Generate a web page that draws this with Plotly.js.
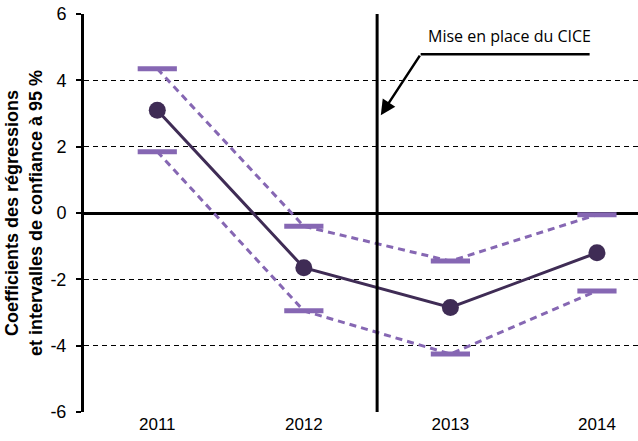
<!DOCTYPE html>
<html><head><meta charset="utf-8">
<script src="https://cdn.plot.ly/plotly-3.0.1.min.js"></script>
<style>body{margin:0;padding:0;background:#fff}#chart{width:638px;height:441px}</style>
</head><body><div id="chart"></div>
<script>
const years = [2011, 2012, 2013, 2014];
const yearLabels = ['2011', '2012', '2013', '2014'];
const coef = [3.1, -1.65, -2.85, -1.2];
const upper = [4.35, -0.4, -1.45, -0.05];
const lower = [1.85, -2.95, -4.25, -2.35];
const yTicks = [-6, -4, -2, 0, 2, 4, 6];
const yTickLabels = ['-6', '-4', '-2', '0', '2', '4', '6'];

const purple = '#8667b3';
const dark = '#3f2c55';

const traces = [
  {x: years, y: upper, mode: 'lines+markers', line: {color: purple, width: 3, dash: '7px,5px'},
   marker: {symbol: 'line-ew', size: 28, line: {color: purple, width: 5}}, hoverinfo: 'skip'},
  {x: years, y: lower, mode: 'lines+markers', line: {color: purple, width: 3, dash: '7px,5px'},
   marker: {symbol: 'line-ew', size: 28, line: {color: purple, width: 5}}, hoverinfo: 'skip'},
  {x: years, y: coef, mode: 'lines+markers', line: {color: dark, width: 3},
   marker: {symbol: 'circle', size: 17, color: dark}, hoverinfo: 'skip'}
];

const layout = {
  width: 638, height: 441,
  margin: {l: 84, r: 0, t: 14, b: 29},
  showlegend: false,
  plot_bgcolor: '#fff', paper_bgcolor: '#fff',
  font: {family: '"Liberation Sans", Arial, sans-serif', color: '#000'},
  xaxis: {range: [2010.5, 2014.28], tickvals: years, ticktext: yearLabels,
    showgrid: false, zeroline: false, showline: false, ticks: '',
    tickfont: {size: 17}},
  yaxis: {range: [-6, 6], tickvals: yTicks, ticktext: yTickLabels, showgrid: true, gridcolor: '#000', gridwidth: 1,
    griddash: '5px,4px', zeroline: true, zerolinecolor: '#000', zerolinewidth: 3,
    showline: true, linecolor: '#000', linewidth: 3, ticks: 'outside', ticklen: 5, tickwidth: 2,
    tickcolor: '#000', tickfont: {size: 18}, ticklabelstandoff: 6, automargin: true,
    title: {text: '<b>Coefficients des régressions<br>et intervalles de confiance à 95 %</b>',
      font: {size: 18}, standoff: 4}},
  shapes: [
    {type: 'line', xref: 'x', yref: 'y', x0: 2012.5, x1: 2012.5, y0: -6, y1: 6,
     line: {color: '#000', width: 3}},
    {type: 'line', xref: 'x', yref: 'y', x0: 2012.797, x1: 2013.95, y0: 4.79, y1: 4.79,
     line: {color: '#000', width: 2.5}}
  ],
  annotations: [
    {xref: 'x', yref: 'y', x: 2013.4, y: 4.93, text: 'Mise en place du CICE', showarrow: false,
     font: {family: '"Open Sans", sans-serif', size: 16}, yanchor: 'bottom'},
    {xref: 'x', yref: 'y', x: 2012.525, y: 2.95, text: '', showarrow: true,
     axref: 'pixel', ayref: 'pixel', ax: 40, ay: -61, arrowhead: 2, arrowsize: 1.2,
     arrowwidth: 2.5, arrowcolor: '#000'}
  ]
};

Plotly.newPlot('chart', traces, layout, {displayModeBar: false, staticPlot: true});
</script></body></html>
